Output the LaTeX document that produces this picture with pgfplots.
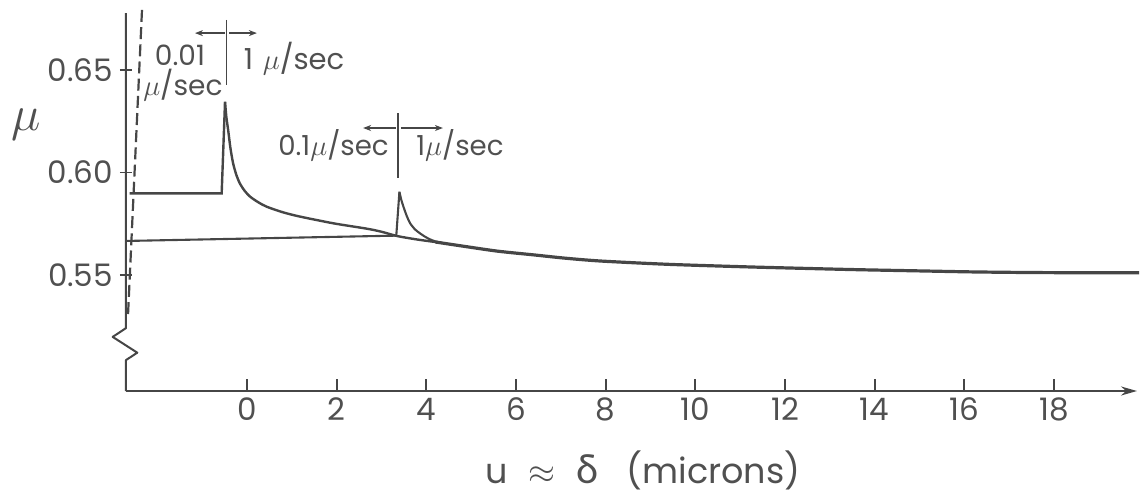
\documentclass[border=0pt]{standalone}
\usepackage{pgfplots}
\pgfplotsset{compat=1.18}
\usepackage{fontspec}
\setmainfont{Poppins}
\newfontfamily\grk{Lato}
\usetikzlibrary{arrows.meta}
\definecolor{ink}{RGB}{70,70,70}
\definecolor{txt}{RGB}{80,80,80}
\begin{document}
\begin{tikzpicture}
\useasboundingbox (-63pt,-53.5pt) rectangle (509pt,195.5pt);
\begin{axis}[
  at={(0,0)}, anchor=south west,
  scale only axis, width=505.5pt, height=191.25pt,
  xmin=-2.699, xmax=19.853, ymin=0.49341, ymax=0.68,
  axis x line=bottom, axis y line=left,
  x axis line style={ink, line width=1pt, -{Stealth[length=8pt,width=4.5pt]}},
  y axis line style={draw=none,-},
  xtick={0,2,4,6,8,10,12,14,16,18},
  xticklabels={0,2,4,6,8,10,12,14,16,18},
  ytick={0.55,0.60,0.65}, yticklabels={0.55,0.60,0.65},
  xtick align=inside, ytick align=center,
  major tick length=6pt,
  tick style={ink, line width=0.9pt},
  tick label style={font=\fontsize{15.5}{18}\selectfont, text=txt},
  clip=false,
]
% 0.01 -> 1 micron/sec series
\addplot[ink, line width=1.2pt] coordinates {(-2.62,0.5898) (-0.565,0.5898) (-0.49,0.6345)};
\addplot[ink, line width=1.2pt, smooth, tension=0.45] coordinates {
(-0.49,0.6345) (-0.46,0.6270) (-0.42,0.6207) (-0.37,0.6120) (-0.31,0.6045)
(-0.24,0.5990) (-0.16,0.5947) (-0.05,0.5910) (0.07,0.5882) (0.25,0.5855)
(0.44,0.5833) (0.80,0.5806) (1.18,0.5785) (1.93,0.5752) (2.67,0.5726)
(3.00,0.5711) (3.35,0.5690) (3.80,0.5673) (4.20,0.5661)};
\addplot[ink, line width=1.6pt, smooth, tension=0.45] coordinates {
(4.20,0.5661) (4.90,0.5638) (5.60,0.5616) (6.40,0.5598) (7.10,0.5582)
(7.90,0.5568) (9.40,0.5552) (11.10,0.5540) (12.30,0.5533) (13.60,0.5526)
(15.00,0.5520) (16.20,0.5515) (17.50,0.5512) (18.70,0.5511) (19.90,0.5511)};
% 0.1 -> 1 micron/sec series
\addplot[ink, line width=1.05pt] coordinates {(-2.699,0.5666) (3.33,0.5692) (3.40,0.5906)};
\addplot[ink, line width=1.05pt, smooth, tension=0.45] coordinates {
(3.40,0.5906) (3.44,0.5868) (3.49,0.5833) (3.56,0.5790) (3.64,0.5752)
(3.75,0.5722) (3.86,0.5703) (3.97,0.5687) (4.08,0.5674) (4.20,0.5664) (4.35,0.5657)};
% dashed line
\addplot[ink, line width=1.1pt, dash pattern=on 6pt off 2.6pt] coordinates {(-2.342,0.6793) (-2.654,0.5305)};

% broken y axis
\draw[ink, line width=1pt, line join=round] (axis cs:-2.699,0.49341) -- (axis cs:-2.699,0.5085)
  -- (axis cs:-2.447,0.5121) -- (axis cs:-2.996,0.5198) -- (axis cs:-2.699,0.5241)
  -- (axis cs:-2.699,0.6778);

% annotation 1
\draw[ink, line width=0.8pt] (axis cs:-0.453,0.6744) -- (axis cs:-0.453,0.6427);
\draw[ink, line width=0.7pt, -{Stealth[length=4pt,width=3pt]}] (axis cs:-0.50,0.668) -- (axis cs:-1.16,0.668);
\draw[ink, line width=0.7pt, -{Stealth[length=4pt,width=3pt]}] (axis cs:-0.40,0.668) -- (axis cs:0.22,0.668);
\node[txt, anchor=base, font=\fontsize{14}{16}\selectfont] at (axis cs:-1.495,0.6520) {0.01};
\node[txt, anchor=base, font=\fontsize{14}{16}\selectfont, inner sep=1pt] at (axis cs:-1.43,0.6378) {$\mu$/sec};
\node[txt, anchor=base, font=\fontsize{14.5}{16}\selectfont] at (axis cs:1.05,0.6500) {1\,\,$\mu$/sec};

% annotation 2
\draw[ink, line width=0.8pt] (axis cs:3.368,0.6290) -- (axis cs:3.368,0.5973);
\draw[ink, line width=0.7pt, -{Stealth[length=4pt,width=3pt]}] (axis cs:3.32,0.6217) -- (axis cs:2.59,0.6217);
\draw[ink, line width=0.7pt, -{Stealth[length=4pt,width=3pt]}] (axis cs:3.43,0.6217) -- (axis cs:4.37,0.6217);
\node[txt, anchor=base, font=\fontsize{13.8}{16}\selectfont] at (axis cs:1.93,0.6085) {0.1$\mu$/sec};
\node[txt, anchor=base, font=\fontsize{13.8}{16}\selectfont] at (axis cs:4.75,0.6085) {1$\mu$/sec};

% axis labels
\node[txt, font=\fontsize{26}{30}\selectfont] at (axis cs:-4.93,0.6232) {$\mu$};
\node[txt, anchor=base, font=\fontsize{17.5}{20}\selectfont] at (axis cs:8.83,0.4485) {u\,\, $\approx$\,\, {\grk\fontsize{20}{22}\selectfont δ} \ \ (microns)};
\end{axis}
\end{tikzpicture}
\end{document}
